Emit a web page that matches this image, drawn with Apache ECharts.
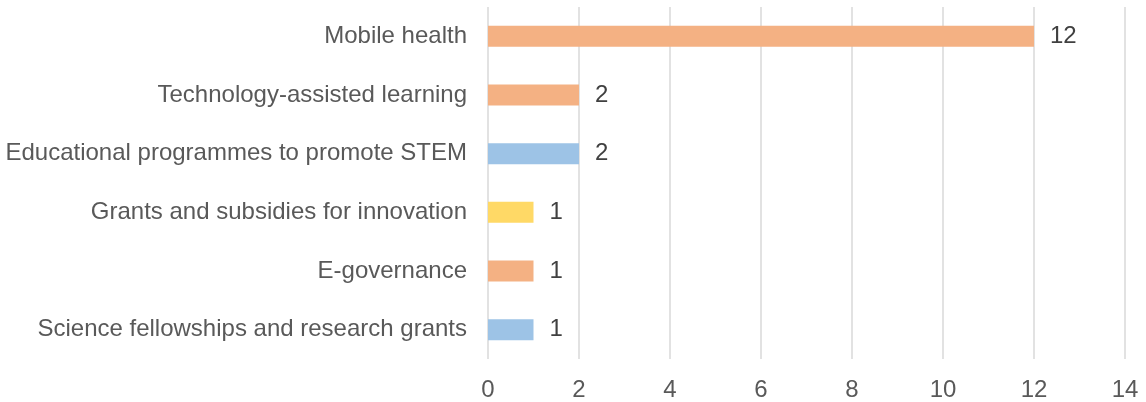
<!DOCTYPE html>
<html>
<head>
<meta charset="utf-8">
<script src="https://cdn.jsdelivr.net/npm/echarts@6/dist/echarts.min.js"></script>
<style>
  html, body { margin: 0; padding: 0; background: #fff; }
  #chart { width: 1146px; height: 402px; }
</style>
</head>
<body>
<div id="chart"></div>
<script>
// categories top to bottom
const categories = [
  'Mobile health',
  'Technology-assisted learning',
  'Educational programmes to promote STEM',
  'Grants and subsidies for innovation',
  'E-governance',
  'Science fellowships and research grants'
];
const values = [12, 2, 2, 1, 1, 1];
const barColors = ['#F4B183', '#F4B183', '#9DC3E6', '#FFD966', '#F4B183', '#9DC3E6'];
const xTicks = [0, 2, 4, 6, 8, 10, 12, 14];

const myChart = echarts.init(document.getElementById('chart'));
const option = {
  animation: false,
  grid: {
    left: 488,
    right: 21,
    top: 7,
    bottom: 43
  },
  xAxis: {
    type: 'value',
    min: xTicks[0],
    max: xTicks[xTicks.length - 1],
    interval: 2,
    axisLine: { show: false },
    axisTick: { show: false },
    splitLine: { show: true, lineStyle: { color: '#D9D9D9', width: 1.5 } },
    axisLabel: {
      color: '#595959',
      fontSize: 24,
      fontFamily: 'Liberation Sans, Arial, sans-serif',
      margin: 19
    }
  },
  yAxis: {
    type: 'category',
    inverse: true,
    data: categories,
    axisLine: { show: false },
    axisTick: { show: false },
    axisLabel: {
      color: '#595959',
      fontSize: 24,
      fontFamily: 'Liberation Sans, Arial, sans-serif',
      margin: 21
    }
  },
  series: [{
    type: 'bar',
    barWidth: 21,
    data: values.map((v, i) => ({ value: v, itemStyle: { color: barColors[i] } })),
    label: {
      show: true,
      position: 'right',
      distance: 16,
      color: '#404040',
      fontSize: 24,
      fontFamily: 'Liberation Sans, Arial, sans-serif'
    }
  }]
};
myChart.setOption(option);
</script>
</body>
</html>
